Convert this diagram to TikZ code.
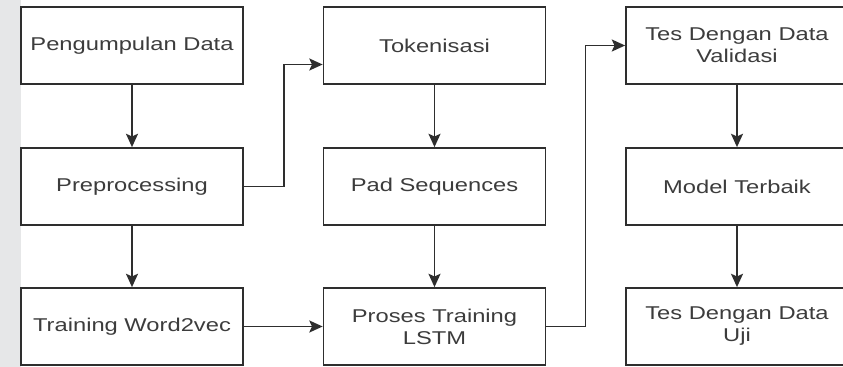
\documentclass[tikz,border=0pt]{standalone}
\usepackage{fontspec}
\usetikzlibrary{arrows.meta}
\newfontfamily\boxfont[FakeStretch=1.28]{Liberation Sans}
\definecolor{ink}{HTML}{2E2E2E}
\definecolor{txt}{HTML}{3C3C3C}
\definecolor{stripgray}{HTML}{E6E7E8}
\begin{document}
\begin{tikzpicture}[x=0.75pt,y=-0.75pt,
  box/.style={draw=ink, line width=1.3pt, fill=white, minimum width=166.5pt,
    minimum height=57.75pt, inner sep=0pt, align=center, text=txt,
    font=\boxfont\fontsize{13.9pt}{16.5pt}\selectfont},
  flow/.style={draw=ink, line width=1.3pt, -{Stealth[length=10pt,width=9pt,inset=2pt]}}]
\useasboundingbox (0,0) rectangle (843,367);
\fill[white] (0,0) rectangle (843,367);
\fill[stripgray] (0,0) rectangle (20.5,367);
\begin{scope}
  \clip (0,0) rectangle (843,367);
  \node[box] (pd)  at (132,45.5)   {Pengumpulan Data};
  \node[box] (pre) at (132,186.5)  {Preprocessing};
  \node[box] (w2v) at (132,326.5)  {Training Word2vec};
  \node[box] (tok) at (434.5,45.5) {Tokenisasi};
  \node[box] (pad) at (434.5,186.5){Pad Sequences};
  \node[box] (lstm) at (434.5,326.5){Proses Training\\LSTM};
  \node[box] (val) at (737,45.5)   {Tes Dengan Data\\Validasi};
  \node[box] (best) at (737,186.5) {Model Terbaik};
  \node[box] (uji) at (737,326.5)  {Tes Dengan Data\\Uji};
\end{scope}
\draw[flow] (pd) -- (pre);
\draw[flow] (pre) -- (w2v);
\draw[flow] (tok) -- (pad);
\draw[flow] (pad) -- (lstm);
\draw[flow] (val) -- (best);
\draw[flow] (best) -- (uji);
\draw[flow] (w2v) -- (lstm);
\draw[flow] (pre.east) -- ++(40,0) |- ([yshift=-14.25pt]tok.west);
\draw[flow] (lstm.east) -- ++(39,0) |- (val.west);
\end{tikzpicture}
\end{document}
